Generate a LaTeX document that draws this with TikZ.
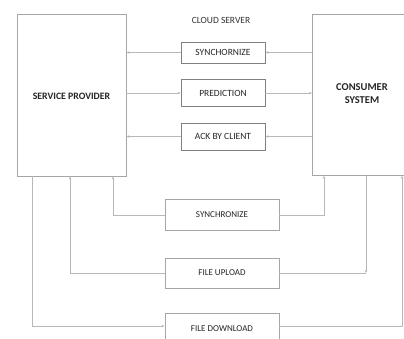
\documentclass[tikz,border=0pt]{standalone}
\usepackage{fontspec}
\setmainfont{Carlito}
\usetikzlibrary{arrows.meta}
\begin{document}
\begin{tikzpicture}[x=1pt,y=-1pt,
  bigbox/.style={draw=black!35,line width=0.8pt,inner sep=0pt},
  midbox/.style={draw=black!50,line width=0.9pt,inner sep=0pt,minimum width=84pt,minimum height=24pt,font=\fontsize{9.5}{10}\selectfont,text=black!85},
  lowbox/.style={draw=black!35,line width=0.9pt,inner sep=0pt,minimum width=114pt,minimum height=31pt,font=\fontsize{9}{10}\selectfont,text=black!85},
  conn/.style={draw=black!28,line width=0.7pt},
  arr/.style={conn,-{Stealth[length=3pt,width=2.5pt]}}]
\useasboundingbox[fill=white] (0,0) rectangle (404,338);
% main boxes
\node[bigbox,minimum width=109pt,minimum height=162pt] (sp) at (71.5,95) {};
\node[font=\fontsize{9.8}{12}\selectfont\bfseries,text=black!85] (spt) at (71.5,96) {SERVICE PROVIDER};
\node[bigbox,minimum width=96pt,minimum height=161pt,anchor=north west] (cs) at (312,14) {};
\node[font=\fontsize{10.5}{12}\selectfont\bfseries,text=black!85,align=center] (cst) at (362,94) {CONSUMER\\[1pt]SYSTEM};
\node[font=\fontsize{9.5}{10}\selectfont,text=black!80] (cloud) at (221,20) {CLOUD SERVER};
% middle boxes
\node[midbox,minimum height=21pt] (syn1) at (223,52.5) {SYNCHORNIZE};
\node[midbox,minimum height=27pt] (pred) at (223,93) {PREDICTION};
\node[midbox,minimum height=27pt] (ack) at (223,136.5) {ACK BY CLIENT};
% lower boxes
\node[lowbox] (syn2) at (222,215) {SYNCHRONIZE};
\node[lowbox,minimum height=30pt] (up) at (222,273) {FILE UPLOAD};
\node[lowbox,minimum height=30pt,anchor=north] (down) at (222,313) {FILE DOWNLOAD};
% coordinates
\coordinate (c1) at (113,215);
\coordinate (c2) at (324,215);
\coordinate (c3) at (70,273);
\coordinate (c4) at (366,273);
\coordinate (c5) at (32,326);
\coordinate (c6) at (402,326);
% upper connectors
\draw[arr] (cs.west |- syn1) -- (syn1.east);
\draw[arr] (syn1.west) -- (sp.east |- syn1);
\draw[arr] (sp.east |- pred) -- (pred.west);
\draw[arr] (pred.east) -- (cs.west |- pred);
\draw[arr] (cs.west |- ack) -- (ack.east);
\draw[arr] (ack.west) -- (sp.east |- ack);
% lower connectors
\draw[arr] (syn2.west) -- (c1) -- (c1 |- sp.south);
\draw[arr] (syn2.east) -- (c2) -- (c2 |- cs.south);
\draw[arr] (up.west) -- (c3) -- (c3 |- sp.south);
\draw[arr] (c4 |- cs.south) -- (c4);
\draw[conn] (c4) -- (up.east);
\draw[arr] (c5 |- sp.south) -- (c5) -- (down.west |- c5);
\draw[arr] (down.east |- c6) -- (c6) -- (c6 |- cs.south);
\end{tikzpicture}
\end{document}
